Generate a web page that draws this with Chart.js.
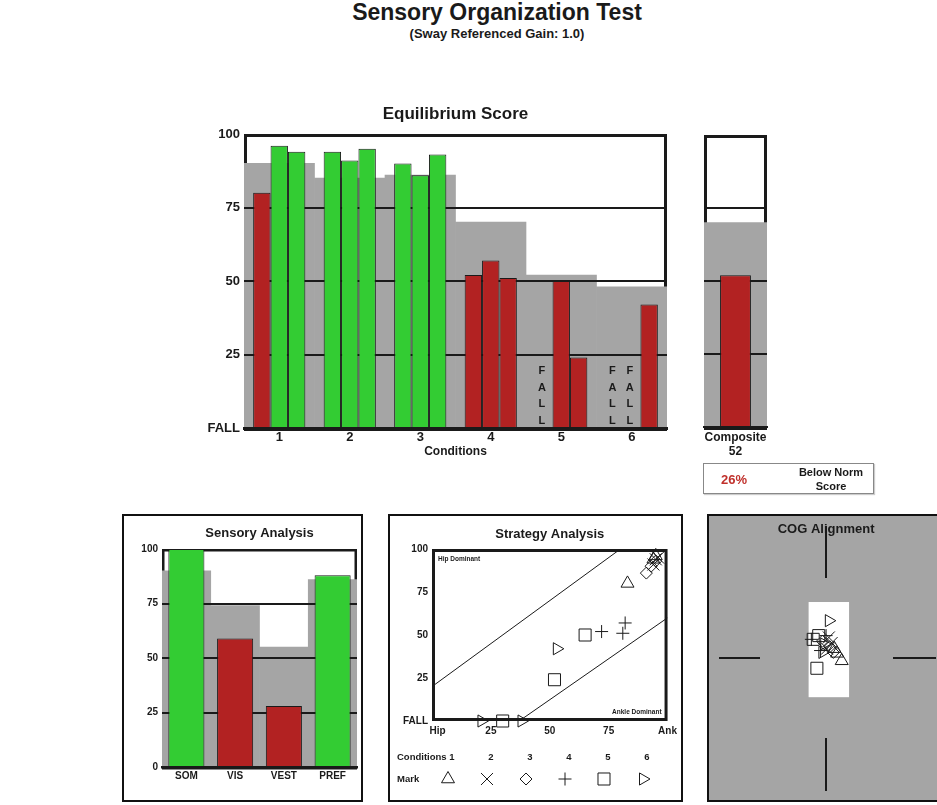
<!DOCTYPE html>
<html>
<head>
<meta charset="utf-8">
<title>Sensory Organization Test</title>
<script src="https://cdn.jsdelivr.net/npm/chart.js@4.4.1/dist/chart.umd.min.js"></script>
<style>
  body { margin: 0; background: #fff; }
  #page { position: relative; width: 937px; height: 805px; overflow: hidden; font-family: 'Liberation Sans', Arial, sans-serif; color: #1a1a1a; }
  .abs { position: absolute; }
  #title { left: 0; width: 994px; top: -1px; text-align: center; font: bold 23px/26px 'Liberation Sans', Arial, sans-serif; }
  #subtitle { left: 0; width: 994px; top: 26px; text-align: center; font: bold 13px/15px 'Liberation Sans', Arial, sans-serif; }
  .panel { box-sizing: border-box; border: 2px solid #111; background: #fff; }
  #normBox { left: 703px; top: 463px; width: 171px; height: 31px; box-sizing: border-box; border: 1px solid #888; box-shadow: 1px 1px 1px #ccc; }
  #normPct { left: 17px; top: 8px; font: bold 13px 'Liberation Sans', Arial, sans-serif; color: #c0302b; }
  #normText { left: 80px; top: 1px; width: 94px; text-align: center; font: bold 11px/14px 'Liberation Sans', Arial, sans-serif; }
</style>
</head>
<body>
<div id="page">
  <div id="title" class="abs">Sensory Organization Test</div>
  <div id="subtitle" class="abs">(Sway Referenced Gain: 1.0)</div>

  <canvas id="eqChart" class="abs" style="left:200px; top:96px;" width="480" height="370"></canvas>
  <canvas id="compChart" class="abs" style="left:690px; top:96px;" width="200" height="370"></canvas>
  <div id="normBox" class="abs">
    <div id="normPct" class="abs"></div>
    <div id="normText" class="abs">Below Norm<br>Score</div>
  </div>

  <div class="abs panel" style="left:122px; top:514px; width:241px; height:288px;">
    <canvas id="sensoryChart" width="237" height="284"></canvas>
  </div>
  <div class="abs panel" style="left:388px; top:514px; width:295px; height:288px;">
    <canvas id="strategyChart" width="291" height="284"></canvas>
  </div>
  <div class="abs panel" style="left:707px; top:514px; width:240px; height:288px; background:#a5a5a5;">
    <canvas id="cogChart" width="236" height="284"></canvas>
  </div>
</div>

<script>
// ---- equilibrium scores (null = fall) ----
const conditions = ['1', '2', '3', '4', '5', '6'];
const trial1 = [80, 94, 90, 52, null, null];
const trial2 = [96, 91, 86, 57, 50, null];
const trial3 = [94, 95, 93, 51, 24, 42];
const conditionNorms = [90, 85, 86, 70, 52, 48];

// ---- composite ----
const compositeLabel = [['Composite', '52']];
const compositeScore = [52];
const compositeNorm = [70];
const belowNorm = '26%';

// ---- sensory analysis ----
const sensoryLabels = ['SOM', 'VIS', 'VEST', 'PREF'];
const sensoryScores = [100, 59, 28, 88];
const sensoryNorms = [90, 74, 55, 86];

// ---- strategy analysis (strategy score per trial, equilibrium on y) ----
const strategy1 = [83, 95, 93, 72, 30, 21];
const strategy2 = [95, 94, 91, 82, 65, 38];
const strategy3 = [94, 96, 95, 81, 52, 53];
const hipLine = [{x: 0, y: 20}, {x: 80, y: 100}];
const ankleLine = [{x: 37, y: 0}, {x: 100, y: 60}];

// ---- COG alignment, one row per condition, three trials ----
const cogX = [[1.7, 1.2, 0.9], [0.3, 0.6, 0.1], [-0.4, 0.4, 0.8], [-1.6, -0.6, 0.0], [-0.8, -1.4, -1.0], [0.3, -0.4, -0.2]];
const cogY = [[-0.3, 0.5, 1.0], [2.2, 1.6, 1.0], [1.8, 1.2, 0.6], [2.0, 0.8, 2.4], [2.4, 2.0, -1.1], [4.0, 0.6, 1.5]];
const cogLimitX = [-1.9, 2.5];
const cogLimitY = [-4.2, 6.0];

// marker per condition
const markStyles = ['triangle', 'crossRot', 'rectRot', 'cross', 'rect', 'triangle'];
const markRotation = [0, 0, 0, 0, 0, 90];
const markRadius = [7.5, 8.5, 6, 6.5, 8.5, 7];

const GREEN = '#33cc33';
const RED = '#b22222';
const NORM_GRAY = '#a5a5a5';
const INK = '#1a1a1a';
const FONT = "'Liberation Sans', Arial, sans-serif";

Chart.defaults.font.family = FONT;
Chart.defaults.color = INK;
Chart.defaults.animation = false;
Chart.defaults.events = [];
Chart.defaults.plugins.legend.display = false;
Chart.defaults.plugins.tooltip.enabled = false;

const bold = size => ({ family: FONT, size: size, weight: 'bold' });
const scoreColor = norms => ctx => (ctx.raw != null && ctx.raw >= norms[ctx.dataIndex]) ? GREEN : RED;
const noGrid = { display: false, drawTicks: false };

// frame above the norm band + grid lines painted over the band
const normGrid = {
  id: 'normGrid',
  defaults: { frameWidth: 3, lineWidth: 2, lines: [25, 50, 75] },
  beforeDatasetsDraw(chart, args, opts) {
    const {ctx, chartArea: a, scales: {y}} = chart;
    const w = opts.frameWidth;
    const top = y.getPixelForValue(100);
    ctx.save();
    ctx.lineWidth = w;
    ctx.strokeStyle = INK;
    ctx.strokeRect(a.left + w / 2, top + w / 2, a.right - a.left - w, a.bottom - top);
    ctx.restore();
  },
  afterDatasetDraw(chart, args, opts) {
    if (args.index !== 0) return; // dataset 0 is the norm band
    const {ctx, chartArea: a, scales: {y}} = chart;
    ctx.save();
    ctx.lineWidth = opts.lineWidth;
    ctx.strokeStyle = INK;
    opts.lines.forEach(v => {
      const py = Math.round(y.getPixelForValue(v));
      ctx.beginPath();
      ctx.moveTo(a.left, py);
      ctx.lineTo(a.right, py);
      ctx.stroke();
    });
    ctx.restore();
  }
};

// vertical FALL text where a trial fell
const fallMarks = {
  id: 'fallMarks',
  afterDatasetsDraw(chart) {
    const {ctx, chartArea: a} = chart;
    ctx.save();
    ctx.font = 'bold 11px ' + FONT;
    ctx.fillStyle = INK;
    ctx.textAlign = 'center';
    ctx.textBaseline = 'middle';
    chart.data.datasets.forEach((ds, di) => {
      if (di === 0) return;
      const meta = chart.getDatasetMeta(di);
      ds.data.forEach((v, i) => {
        if (v !== null) return;
        const x = meta.data[i].x - 2;
        'FALL'.split('').forEach((ch, k) => ctx.fillText(ch, x, a.bottom - 7 - 16.7 * (3 - k)));
      });
    });
    ctx.restore();
  }
};

const scoreAxis = (width, fontSize, fallLabel) => ({
  min: 0, max: 100,
  afterFit: s => { s.width = width; },
  grid: noGrid,
  border: { display: false },
  ticks: {
    stepSize: 25, padding: 4, font: bold(fontSize),
    callback: v => (v === 0 && fallLabel) ? 'FALL' : v
  }
});

// --- Equilibrium Score ---
const trialSet = (label, data) => ({
  label: label, data: data, order: 1,
  backgroundColor: scoreColor(conditionNorms),
  borderColor: INK, borderWidth: 1,
  categoryPercentage: 0.74, barPercentage: 1
});

new Chart(document.getElementById('eqChart'), {
  type: 'bar',
  data: {
    labels: conditions,
    datasets: [
      { label: 'Norm', data: conditionNorms, order: 2, grouped: false, backgroundColor: NORM_GRAY,
        borderWidth: 0, categoryPercentage: 1, barPercentage: 1 },
      trialSet('Trial 1', trial1),
      trialSet('Trial 2', trial2),
      trialSet('Trial 3', trial3)
    ]
  },
  options: {
    responsive: false,
    layout: { padding: { left: 0, right: 13, top: 0, bottom: 0 } },
    plugins: {
      title: { display: true, text: 'Equilibrium Score', fullSize: false, font: bold(17), color: INK,
               padding: { top: 7.8, bottom: 9.8 } },
      normGrid: { frameWidth: 3, lineWidth: 2 }
    },
    scales: {
      x: {
        afterFit: s => { s.height = 38; },
        grid: noGrid,
        border: { display: true, width: 3, color: INK, z: 1 },
        ticks: { font: bold(13), padding: 2 },
        title: { display: true, text: 'Conditions', font: bold(12), padding: { top: 0, bottom: 7 } }
      },
      y: scoreAxis(44, 13, true)
    }
  },
  plugins: [normGrid, fallMarks]
});

// --- Composite ---
new Chart(document.getElementById('compChart'), {
  type: 'bar',
  data: {
    labels: compositeLabel,
    datasets: [
      { label: 'Norm', data: compositeNorm, order: 2, grouped: false, backgroundColor: NORM_GRAY,
        borderWidth: 0, categoryPercentage: 1, barPercentage: 1 },
      { label: 'Composite', data: compositeScore, order: 1, backgroundColor: scoreColor(compositeNorm),
        borderColor: INK, borderWidth: 1, categoryPercentage: 0.49, barPercentage: 1 }
    ]
  },
  options: {
    responsive: false,
    layout: { padding: { left: 14, right: 123, top: 39, bottom: 0 } },
    plugins: { normGrid: { frameWidth: 3, lineWidth: 2 } },
    scales: {
      x: {
        afterFit: s => { s.height = 39; },
        grid: noGrid,
        border: { display: true, width: 2, color: INK, z: 1 },
        ticks: { font: bold(12), padding: 3 }
      },
      y: { display: false, min: 0, max: 100 }
    }
  },
  plugins: [normGrid]
});
document.getElementById('normPct').textContent = belowNorm;

// --- Sensory Analysis ---
new Chart(document.getElementById('sensoryChart'), {
  type: 'bar',
  data: {
    labels: sensoryLabels,
    datasets: [
      { label: 'Norm', data: sensoryNorms, order: 2, grouped: false, backgroundColor: NORM_GRAY,
        borderWidth: 0, categoryPercentage: 1, barPercentage: 1 },
      { label: 'Score', data: sensoryScores, order: 1, backgroundColor: scoreColor(sensoryNorms),
        borderColor: INK, borderWidth: 1, categoryPercentage: 0.74, barPercentage: 1 }
    ]
  },
  options: {
    responsive: false,
    layout: { padding: { left: 0, right: 4, top: 0, bottom: 13 } },
    plugins: {
      title: { display: true, text: 'Sensory Analysis', fullSize: false, font: bold(13), color: INK,
               padding: { top: 9.2, bottom: 8.2 } },
      normGrid: { frameWidth: 2.5, lineWidth: 2 }
    },
    scales: {
      x: {
        afterFit: s => { s.height = 20; },
        grid: noGrid,
        border: { display: true, width: 2.5, color: INK, z: 1 },
        ticks: { font: bold(10), padding: 3 }
      },
      y: scoreAxis(38, 10, false)
    }
  },
  plugins: [normGrid]
});

// --- Strategy Analysis ---
const strategyFrame = {
  id: 'strategyFrame',
  beforeDatasetsDraw(chart) {
    const {ctx, chartArea: a} = chart;
    ctx.save();
    ctx.lineWidth = 3;
    ctx.strokeStyle = INK;
    ctx.strokeRect(a.left + 1.5, a.top + 1.5, a.right - a.left - 3, a.bottom - a.top - 3);
    ctx.fillStyle = INK;
    ctx.font = 'bold 6.5px ' + FONT;
    ctx.textBaseline = 'middle';
    ctx.textAlign = 'left';
    ctx.fillText('Hip Dominant', a.left + 6, a.top + 10);
    ctx.textAlign = 'right';
    ctx.fillText('Ankle Dominant', a.right - 6, a.bottom - 9);
    ctx.restore();
  },
  afterDraw(chart) {
    // conditions / mark key under the plot
    const ctx = chart.ctx;
    const rowCond = 241, rowMark = 263, x0 = 58, step = 39;
    ctx.save();
    ctx.fillStyle = INK;
    ctx.font = 'bold 9.5px ' + FONT;
    ctx.textBaseline = 'middle';
    ctx.textAlign = 'left';
    ctx.fillText('Conditions', 7, rowCond);
    ctx.fillText('Mark', 7, rowMark);
    ctx.textAlign = 'center';
    ctx.strokeStyle = INK;
    ctx.lineWidth = 1;
    conditions.forEach((c, i) => {
      const x = x0 + step * i;
      ctx.fillText(c, x + 4, rowCond);
      ctx.fillStyle = 'rgba(0,0,0,0)';
      Chart.helpers.drawPoint(ctx, { pointStyle: markStyles[i], rotation: markRotation[i],
        radius: markRadius[i], borderWidth: 1 }, x, rowMark);
      ctx.fillStyle = INK;
    });
    ctx.restore();
  }
};

const strategyTrials = [strategy1, strategy2, strategy3];
const equilibriumTrials = [trial1, trial2, trial3];
const guideLine = (label, data) => ({
  type: 'line', label: label, data: data, borderColor: INK, borderWidth: 1,
  pointRadius: 0, fill: false, showLine: true
});

new Chart(document.getElementById('strategyChart'), {
  type: 'scatter',
  data: {
    datasets: [
      guideLine('Hip', hipLine),
      guideLine('Ankle', ankleLine),
      ...conditions.map((c, i) => ({
        label: 'Condition ' + c,
        data: strategyTrials.map((s, k) => ({ x: s[i], y: equilibriumTrials[k][i] ?? 0 })),
        pointStyle: markStyles[i], pointRotation: markRotation[i], pointRadius: markRadius[i],
        pointBorderColor: INK, pointBorderWidth: 1, pointBackgroundColor: 'rgba(0,0,0,0)',
        clip: 10
      }))
    ]
  },
  options: {
    responsive: false,
    layout: { padding: { left: 0, right: 9, top: 0, bottom: 59 } },
    plugins: {
      title: { display: true, text: 'Strategy Analysis', fullSize: false, font: bold(13), color: INK,
               padding: { top: 10.2, bottom: 7.2 } }
    },
    scales: {
      x: {
        type: 'linear', min: 0, max: 100,
        afterFit: s => { s.height = 20; },
        grid: noGrid,
        border: { display: false },
        ticks: { stepSize: 25, padding: 4, maxRotation: 0, font: bold(10),
                 callback: v => v === 0 ? '    Hip' : v === 100 ? 'Ank' : v }
      },
      y: scoreAxis(42, 10, true)
    }
  },
  plugins: [strategyFrame]
});

// --- COG Alignment ---
const cogGuides = {
  id: 'cogGuides',
  beforeDatasetsDraw(chart) {
    const {ctx, scales: {x, y}} = chart;
    const px = v => x.getPixelForValue(v);
    const py = v => y.getPixelForValue(v);
    ctx.save();
    ctx.fillStyle = '#fff';
    ctx.fillRect(px(cogLimitX[0]), py(cogLimitY[1]), px(cogLimitX[1]) - px(cogLimitX[0]), py(cogLimitY[0]) - py(cogLimitY[1]));
    ctx.strokeStyle = INK;
    ctx.lineWidth = 2;
    const seg = (x1, y1, x2, y2) => {
      ctx.beginPath();
      ctx.moveTo(Math.round(px(x1)), Math.round(py(y1)));
      ctx.lineTo(Math.round(px(x2)), Math.round(py(y2)));
      ctx.stroke();
    };
    seg(0, y.max, 0, 8.6);
    seg(0, -8.6, 0, y.min);
    seg(x.min, 0, -7.2, 0);
    seg(7.3, 0, x.max, 0);
    ctx.fillStyle = INK;
    ctx.font = 'bold 13px ' + FONT;
    ctx.textAlign = 'center';
    ctx.textBaseline = 'middle';
    ctx.fillText('COG Alignment', px(0), 13);
    ctx.restore();
  }
};

new Chart(document.getElementById('cogChart'), {
  type: 'scatter',
  data: {
    datasets: conditions.map((c, i) => ({
      label: 'Condition ' + c,
      data: cogX[i].map((v, k) => ({ x: v, y: cogY[i][k] })),
      pointStyle: markStyles[i], pointRotation: markRotation[i], pointRadius: markRadius[i],
      pointBorderColor: INK, pointBorderWidth: 1, pointBackgroundColor: 'rgba(0,0,0,0)'
    }))
  },
  options: {
    responsive: false,
    layout: { padding: 0 },
    scales: {
      x: { display: false, type: 'linear', min: -11.7, max: 11.9 },
      y: { display: false, min: -14.2, max: 14.2 }
    }
  },
  plugins: [cogGuides]
});
</script>
</body>
</html>
